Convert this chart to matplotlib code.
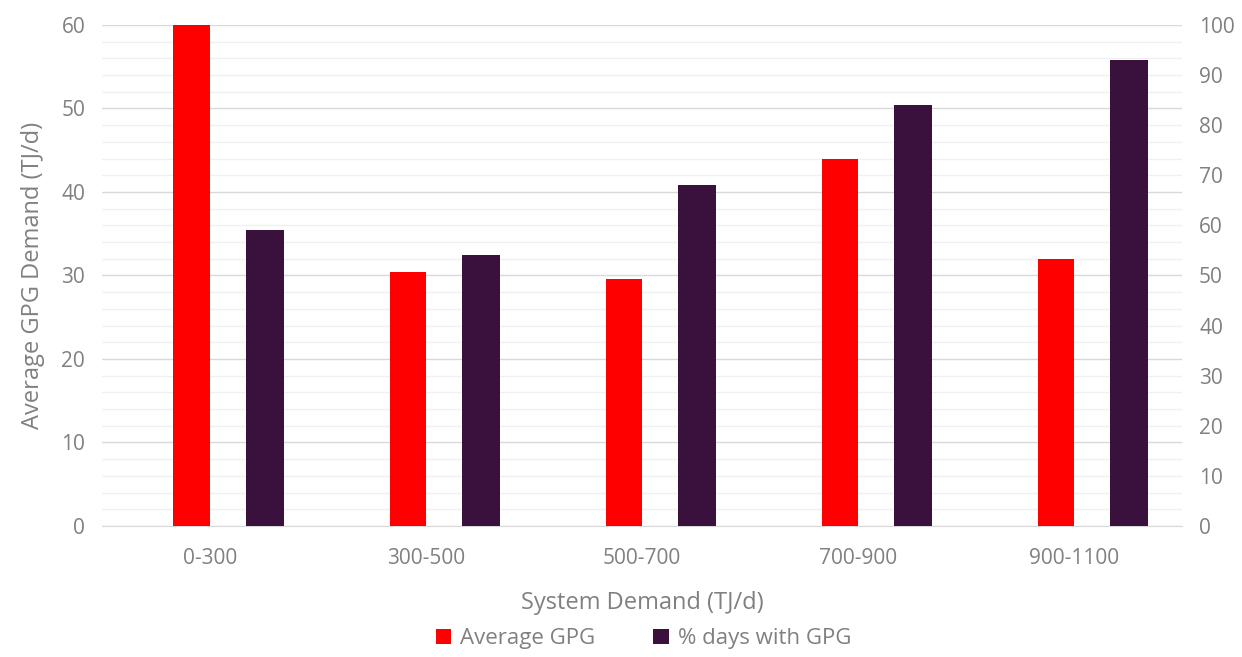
import numpy as np
import matplotlib.pyplot as plt
from matplotlib.ticker import MultipleLocator

categories = ['0-300', '300-500', '500-700', '700-900', '900-1100']
avg_gpg = [60, 30.4, 29.6, 44.0, 32.0]
pct_days = [59, 54, 68, 84, 93]

red = '#ff0000'
purple = '#3a103c'
grey = '#808080'

plt.rcParams['font.family'] = ['Open Sans', 'DejaVu Sans']

fig = plt.figure(figsize=(12.42, 6.57), dpi=100)
ax = fig.add_axes([0.082, 0.1994, 0.87, 0.7626])
ax2 = ax.twinx()

x = np.arange(len(categories))
ax.bar(x - 0.085, avg_gpg, width=0.167, color=red, label='Average GPG', zorder=3)
ax2.bar(x + 0.255, pct_days, width=0.176, color=purple, label='% days with GPG', zorder=3)

ax.set_xlim(-0.5, len(categories) - 0.5)
ax.set_ylim(0, 60)
ax2.set_ylim(0, 100)
ax.yaxis.set_major_locator(MultipleLocator(10))
ax.yaxis.set_minor_locator(MultipleLocator(2))
ax2.yaxis.set_major_locator(MultipleLocator(10))

ax.grid(axis='y', which='major', color='#d9d9d9', linewidth=1, zorder=0)
ax.grid(axis='y', which='minor', color='#f0f0f0', linewidth=1, zorder=0)

for a in (ax, ax2):
    for s in a.spines.values():
        s.set_visible(False)
    a.tick_params(which='both', length=0, labelsize=15, colors=grey, pad=12)
ax.spines['bottom'].set_visible(True)
ax.spines['bottom'].set_color('#d9d9d9')

ax.set_xticks(x)
ax.set_xticklabels(categories)
ax.tick_params(axis='x', pad=16)

ax.set_ylabel('Average GPG Demand (TJ/d)', fontsize=17, color=grey, labelpad=12)
ax.set_xlabel('System Demand (TJ/d)', fontsize=17, color=grey, labelpad=16)

h1, l1 = ax.get_legend_handles_labels()
h2, l2 = ax2.get_legend_handles_labels()
fig.legend(h1 + h2, l1 + l2, loc='center', bbox_to_anchor=(0.518, 0.028),
           ncol=2, frameon=False, fontsize=16, labelcolor=grey,
           handlelength=0.7, handleheight=0.7, columnspacing=2.6, handletextpad=0.4)

fig.savefig('out.png', dpi=100)
